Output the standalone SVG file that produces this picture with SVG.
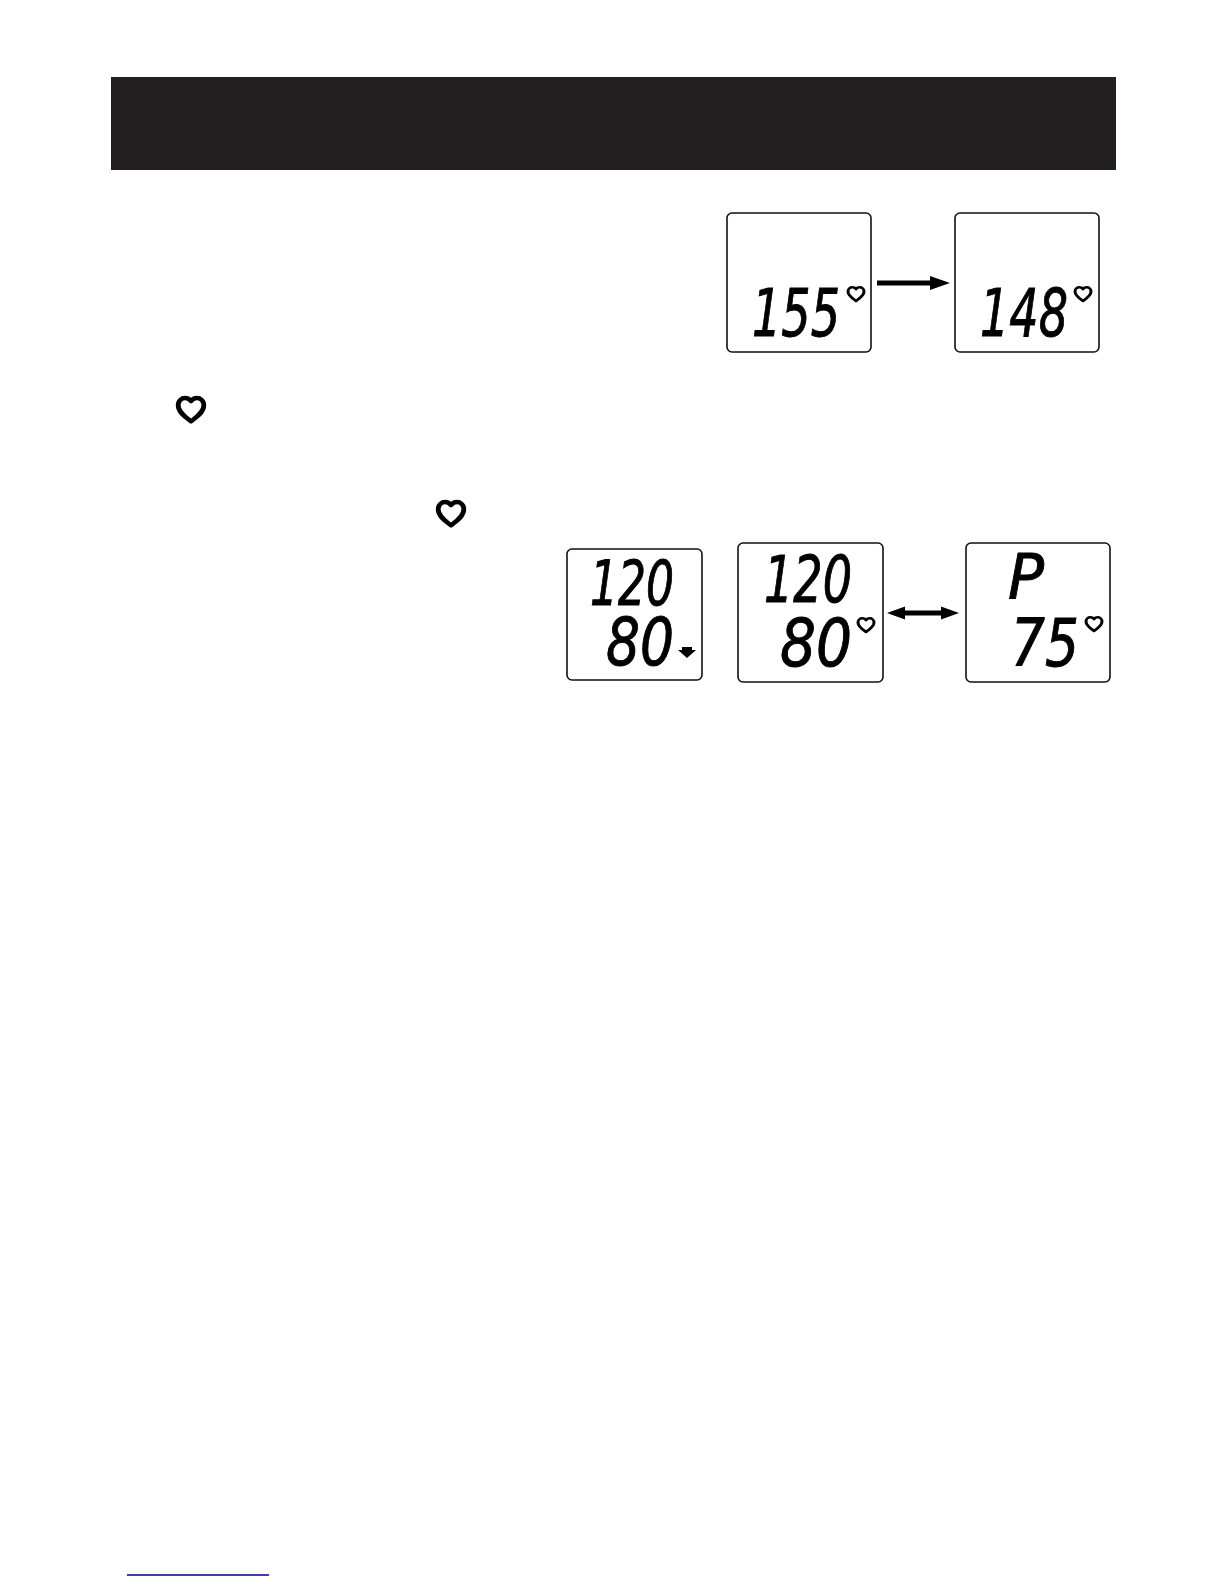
<svg xmlns="http://www.w3.org/2000/svg" xmlns:xlink="http://www.w3.org/1999/xlink" width="1224" height="1584" viewBox="0 0 1224 1584">
<style>
.box{fill:#fff;stroke:#111;stroke-width:1.6}
.lcd{font-family:"DejaVu Sans",Arial,sans-serif;font-style:italic;font-size:66px;fill:#000;stroke:#000;stroke-width:1}
.bar{fill:#000}
.heart{fill:none;stroke:#000;stroke-linejoin:round}
</style>
<defs>
<path id="h" d="M0,10.500C-3,8-8,4.500-8,-0.500C-8,-4-5.500,-5.500-3.800,-5.500C-2,-5.500-.8,-4.600,0,-3.300C.8,-4.600,2,-5.500,3.800,-5.500C5.500,-5.500,8,-4,8,-0.500C8,4.500,3,8,0,10.500Z"/>
</defs>
<rect width="1224" height="1584" fill="#fff"/>
<rect id="header-band" x="111" y="77" width="1005" height="93" fill="#231f20"/>

<g id="display-155">
<rect class="box" x="727" y="213" width="144" height="139" rx="5"/>
<text class="lcd" x="752" y="336" textLength="88" lengthAdjust="spacingAndGlyphs">155</text>
<use xlink:href="#h" href="#h" class="heart" stroke-width="3" transform="translate(856 292) scale(1 .85)"/>
</g>
<g id="display-148">
<rect class="box" x="955" y="213" width="144" height="139" rx="5"/>
<text class="lcd" x="980" y="336" textLength="88" lengthAdjust="spacingAndGlyphs">148</text>
<use xlink:href="#h" href="#h" class="heart" stroke-width="3" transform="translate(1083 292) scale(1 .85)"/>
</g>

<g id="heart-icon-1"><use xlink:href="#h" href="#h" class="heart" stroke-width="3" transform="translate(191 406) scale(1.600 1.450)"/></g>
<g id="heart-icon-2"><use xlink:href="#h" href="#h" class="heart" stroke-width="3" transform="translate(451 510) scale(1.600 1.450)"/></g>

<g id="display-120-80-arrow">
<rect class="box" x="567" y="549" width="135" height="131" rx="5"/>
<text class="lcd" x="590" y="605" textLength="84" lengthAdjust="spacingAndGlyphs" style="font-size:63px">120</text>
<text class="lcd" x="606" y="665" textLength="68" lengthAdjust="spacingAndGlyphs">80</text>
<path d="M678,650L682,650L682,647L692,647L692,650L696,650L687,658Z" fill="#000"/>
</g>
<g id="display-120-80-heart">
<rect class="box" x="738" y="543" width="145" height="139" rx="5"/>
<text class="lcd" x="764" y="602" textLength="88" lengthAdjust="spacingAndGlyphs" style="font-size:64px">120</text>
<text class="lcd" x="780" y="666" textLength="72" lengthAdjust="spacingAndGlyphs">80</text>
<use xlink:href="#h" href="#h" class="heart" stroke-width="3" transform="translate(866 623) scale(1 .85)"/>
</g>
<g id="display-p-75">
<rect class="box" x="966" y="543" width="144" height="139" rx="5"/>
<text class="lcd" x="1008" y="598" textLength="36" lengthAdjust="spacingAndGlyphs" style="font-size:63px">P</text>
<text class="lcd" x="1011" y="666" textLength="68" lengthAdjust="spacingAndGlyphs">75</text>
<use xlink:href="#h" href="#h" class="heart" stroke-width="3" transform="translate(1094 622) scale(1 .85)"/>
</g>

<g id="connectors">
<path class="bar" d="M877,280.500H930V276L950,283L930,290V285.500H877Z"/>
<path class="bar" d="M887,613L905,606.500V610.500H941V606.500L959,613L941,619.500V615.500H905V619.500Z"/>
</g>
<line id="footer-rule" x1="127" y1="1575" x2="269" y2="1575" stroke="#00008b" stroke-width="1.500"/>
</svg>
